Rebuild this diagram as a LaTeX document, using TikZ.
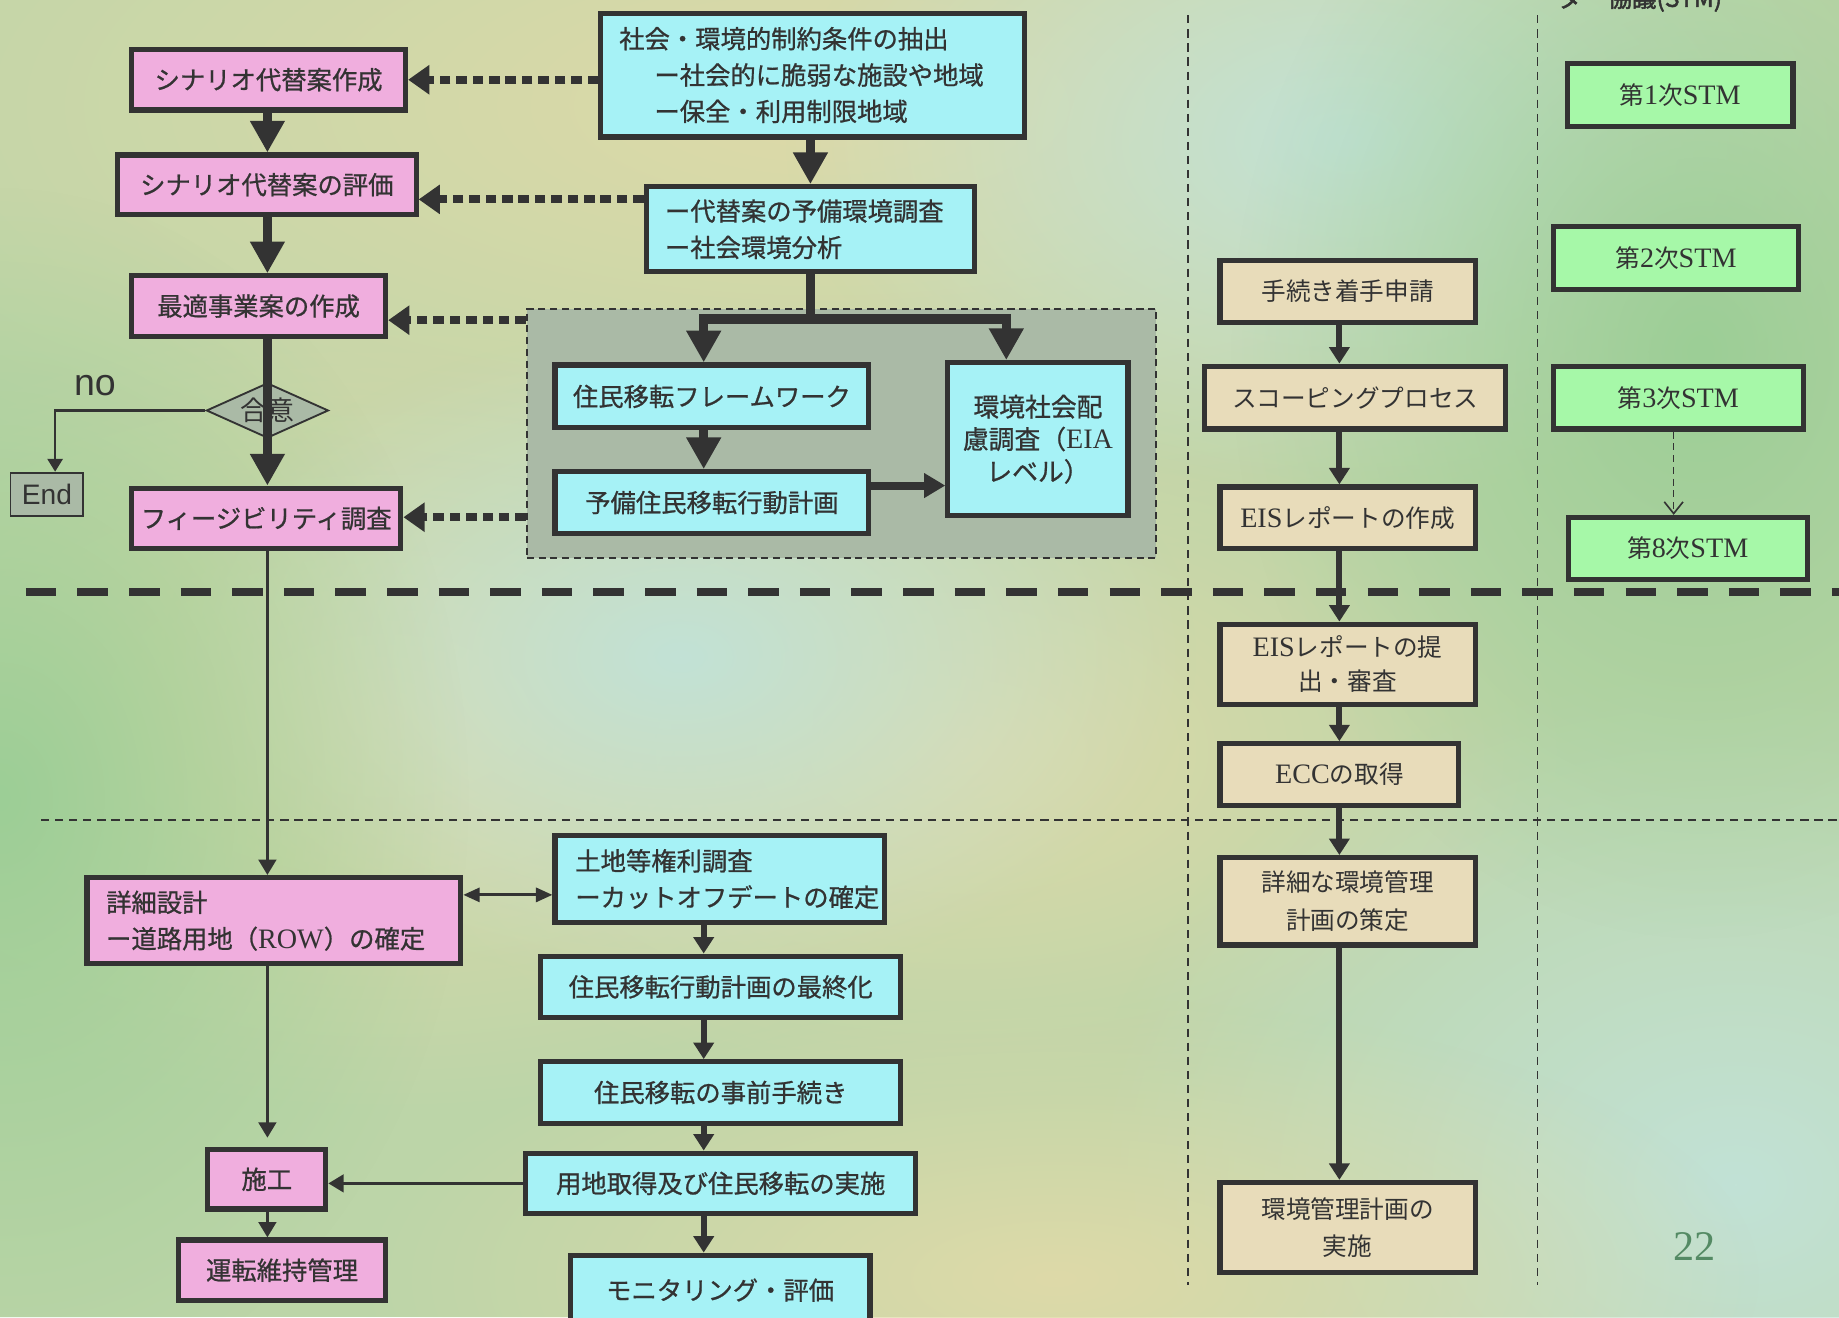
\documentclass[tikz,border=0pt]{standalone}
\usepackage{fontspec}
\setmainfont{Liberation Serif}
\newfontfamily\jp{Noto Sans CJK JP}
\newfontfamily\jpm[FakeBold=0.8]{Noto Sans CJK JP}
\newfontfamily\jpb[FakeBold=2]{Noto Sans CJK JP}
\newfontfamily\lsans{Liberation Sans}
\usetikzlibrary{arrows.meta,shapes.geometric,fadings}
\tikzfading[name=softblob, inner color=transparent!0, outer color=transparent!100]

\definecolor{bgbase}{RGB}{188,213,168}
\definecolor{bgyel}{RGB}{222,218,168}
\definecolor{bgblue}{RGB}{194,226,214}
\definecolor{bggreen}{RGB}{156,206,150}
\definecolor{ink}{RGB}{51,51,51}
\definecolor{pinkf}{RGB}{240,174,222}
\definecolor{cyanf}{RGB}{166,242,246}
\definecolor{beigef}{RGB}{232,220,186}
\definecolor{greenf}{RGB}{166,248,168}
\definecolor{grayf}{RGB}{170,186,166}
\definecolor{pgnum}{RGB}{84,138,100}

\newcommand\lat[1]{{\rmfamily\fontsize{12}{15}\selectfont #1}}
\newcommand\bx[7]{\node[#1, minimum width={(#5-#3)*0.5pt-2.2pt}, minimum height={(#6-#4)*0.5pt-2.2pt}] (#2) at ({(#3+#5)/2},{(#4+#6)/2}) {#7};}

\tikzset{
  box/.style={draw=ink, line width=2.2pt, inner sep=0pt, text=ink},
  pinkbox/.style={box, fill=pinkf, font={\jpm\fontsize{10.8}{15.5}\selectfont}},
  cyanbox/.style={box, fill=cyanf, font={\jpm\fontsize{10.8}{15.5}\selectfont}},
  beigebox/.style={box, fill=beigef, font={\jp\fontsize{10.5}{15.5}\selectfont}},
  greenbox/.style={box, fill=greenf, font={\jp\fontsize{10.5}{15}\selectfont}},
  grpbox/.style={draw=ink, line width=0.8pt, dash pattern=on 3pt off 2pt, fill=grayf, inner sep=0pt},
  blob/.style={path fading=softblob},
  bigarrow/.style={draw=ink, line width=4pt, -{Triangle[width=14pt,length=13.5pt]}},
  medarrow/.style={draw=ink, line width=3.4pt, -{Triangle[width=10pt,length=9pt]}},
  midarrow/.style={draw=ink, line width=2.6pt, -{Triangle[width=8.5pt,length=7pt]}},
  thinarrow/.style={draw=ink, line width=1.2pt, -{Triangle[width=7.5pt,length=6.5pt]}},
  dblarrow/.style={draw=ink, line width=1.2pt, {Triangle[width=6pt,length=7pt]}-{Triangle[width=6pt,length=7pt]}},
  noarrow/.style={draw=ink, line width=1pt, -{Triangle[width=6.5pt,length=5.5pt]}},
  dotarrow/.style={draw=ink, line width=3.4pt, dash pattern=on 4.5pt off 2.5pt, -{Triangle[width=12pt,length=9pt]}},
  dasharrow/.style={draw=ink, line width=0.7pt, dash pattern=on 3pt off 2pt, -{Straight Barb[width=8pt,length=5pt]}},
  thickdash/.style={draw=ink, line width=3.5pt, dash pattern=on 13pt off 9pt},
  thindash/.style={draw=ink, line width=0.7pt, dash pattern=on 3.5pt off 2.5pt},
}

\begin{document}
\begin{tikzpicture}[x=0.5pt,y=-0.5pt]
\useasboundingbox (0,0) rectangle (1568,1123);
% background
\fill[bgbase] (0,0) rectangle (1568,1123);
\begin{scope}
\clip (0,0) rectangle (1568,1123);
\fill[bgyel, blob] (700,90) ellipse [x radius=520pt, y radius=200pt];
\fill[bgyel, blob] (330,610) ellipse [x radius=300pt, y radius=170pt];
\fill[bgyel, blob] (820,640) ellipse [x radius=260pt, y radius=150pt];
\fill[bgblue, blob] (580,560) ellipse [x radius=220pt, y radius=140pt];
\fill[bggreen, blob] (0,680) ellipse [x radius=200pt, y radius=260pt];
\fill[bgblue, blob] (1480,1010) ellipse [x radius=280pt, y radius=220pt];
\fill[bgyel, blob] (900,1090) ellipse [x radius=300pt, y radius=120pt];
\fill[bgblue, blob] (1150,120) ellipse [x radius=240pt, y radius=150pt];
\fill[bggreen, blob] (1450,300) ellipse [x radius=200pt, y radius=250pt];
\end{scope}

% separators
\draw[thindash] (1013,13) -- (1013,1096);
\draw[thindash] (1311,13) -- (1311,1096);
\draw[thindash] (35,699) -- (1568,699);
\draw[thickdash] (22,505) -- (1568,505);

% heading (cut at top)
\node[font={\jpb\fontsize{10.5}{11}\selectfont}, text=ink, anchor=west, inner sep=0pt] (hd) at (1328,-1) {ダー協議(STM)};

% group
\bx{grpbox}{grp}{447}{261}{988}{478}{}

% pink boxes
\bx{pinkbox}{p1}{110}{40}{348}{96}{シナリオ代替案作成}
\bx{pinkbox}{p2}{98}{130}{357}{185}{シナリオ代替案の評価}
\bx{pinkbox}{p3}{110}{233}{331}{289}{最適事業案の作成}
\bx{pinkbox}{p4}{110}{414}{344}{470}{フィージビリティ調査}
\bx{pinkbox,align=left,text width=143pt}{p5}{72}{746}{395}{824}{詳細設計\\ー道路用地（\lat{ROW}）の確定}
\bx{pinkbox}{p6}{175}{978}{280}{1033}{施工}
\bx{pinkbox}{p7}{150}{1055}{331}{1111}{運転維持管理}

% cyan boxes
\bx{cyanbox,align=left,text width=165pt}{c1}{510}{9}{876}{119}{社会・環境的制約条件の抽出\\\hspace*{15pt}ー社会的に脆弱な施設や地域\\\hspace*{15pt}ー保全・利用制限地域}
\bx{cyanbox,align=left,text width=124pt}{c2}{549}{157}{833}{234}{ー代替案の予備環境調査\\ー社会環境分析}
\bx{cyanbox}{c3}{471}{309}{743}{367}{住民移転フレームワーク}
\bx{cyanbox}{c4}{471}{400}{743}{457}{予備住民移転行動計画}
\bx{cyanbox,align=center,font={\jpm\fontsize{11}{13.8}\selectfont}}{c5}{806}{307}{964}{442}{環境社会配\\慮調査（\lat{EIA}\\レベル）}
\bx{cyanbox,align=left,text width=123pt}{c6}{471}{710}{756}{789}{土地等権利調査\\ーカットオフデートの確定}
\bx{cyanbox}{c7}{459}{813}{770}{870}{住民移転行動計画の最終化}
\bx{cyanbox}{c8}{459}{903}{770}{960}{住民移転の事前手続き}
\bx{cyanbox}{c9}{446}{981}{783}{1037}{用地取得及び住民移転の実施}
\bx{cyanbox}{c10}{484}{1068}{744}{1132}{モニタリング・評価}

% diamond & end
\node[diamond, aspect=2, draw=ink, line width=0.8pt, fill=grayf, minimum width=52pt, minimum height=23.5pt, inner sep=0pt, text=ink, font={\jp\fontsize{11.5}{12}\selectfont}] (dia) at (228,350) {合意};
\node[draw=ink, line width=0.8pt, fill=grayf, minimum width=31pt, minimum height=18.5pt, inner sep=0pt, text=ink, font={\lsans\fontsize{12}{12}\selectfont}] (end) at (40,421.5) {End};
\node[text=ink, font={\lsans\fontsize{16}{16}\selectfont}, inner sep=0pt] (no) at (81,328.5) {no};

% beige boxes
\bx{beigebox}{b1}{1038}{220}{1260}{277}{手続き着手申請}
\bx{beigebox}{b2}{1025}{310}{1286}{368}{スコーピングプロセス}
\bx{beigebox}{b3}{1038}{413}{1260}{470}{\lat{EIS}レポートの作成}
\bx{beigebox,align=center,font={\jp\fontsize{10.5}{14.5}\selectfont}}{b4}{1038}{530}{1260}{603}{\lat{EIS}レポートの提\\出・審査}
\bx{beigebox}{b5}{1038}{632}{1246}{689}{\lat{ECC}の取得}
\bx{beigebox,align=center,font={\jp\fontsize{10.5}{16}\selectfont}}{b6}{1038}{729}{1260}{808}{詳細な環境管理\\計画の策定}
\bx{beigebox,align=center,font={\jp\fontsize{10.5}{16}\selectfont}}{b7}{1038}{1006}{1260}{1087}{環境管理計画の\\実施}

% green STM boxes
\bx{greenbox}{s1}{1334}{52}{1531}{110}{第\lat{1}次\lat{STM}}
\bx{greenbox}{s2}{1322}{191}{1536}{249}{第\lat{2}次\lat{STM}}
\bx{greenbox}{s3}{1322}{310}{1540}{368}{第\lat{3}次\lat{STM}}
\bx{greenbox}{s8}{1335}{439}{1543}{496}{第\lat{8}次\lat{STM}}

% page number
\node[text=pgnum, font={\rmfamily\fontsize{18}{18}\selectfont}, inner sep=0pt] (pg) at (1445,1063) {22};

% ---- connectors ----
\coordinate (lx) at (228,0);
\draw[bigarrow] (lx |- p1.south) -- (lx |- p2.north);
\draw[bigarrow] (lx |- p2.south) -- (lx |- p3.north);
\draw[bigarrow] (lx |- p3.south) -- (lx |- p4.north);

\coordinate (nb) at (47,350);
\draw[noarrow] (dia.west) -- (nb) -- (nb |- end.north);

\coordinate (cx) at (691,0);
\draw[bigarrow] (cx |- c1.south) -- (cx |- c2.north);
\coordinate (br) at (691,272);
\coordinate (bl) at (600,272);
\coordinate (bR) at (858,272);
\draw[draw=ink, line width=4pt] (cx |- c2.south) -- (br);
\draw[bigarrow] (br) -- (bl) -- (bl |- c3.north);
\draw[bigarrow] (br) -- (bR) -- (bR |- c5.north);
\draw[bigarrow] (bl |- c3.south) -- (bl |- c4.north);
\coordinate (de) at (743,414);
\draw[medarrow] (de -| c4.east) -- (de -| c5.west);

\coordinate (d2) at (549,170);
\coordinate (d3) at (447,273);
\coordinate (d4) at (447,441);
\draw[dotarrow] (c1.west |- p1.east) -- (p1.east);
\draw[dotarrow] (c2.west |- d2) -- (d2 -| p2.east);
\draw[dotarrow] (grp.west |- d3) -- (d3 -| p3.east);
\draw[dotarrow] (grp.west |- d4) -- (d4 -| p4.east);

\draw[thinarrow] (lx |- p4.south) -- (lx |- p5.north);
\coordinate (dd) at (400,763);
\draw[dblarrow] (dd -| p5.east) -- (dd -| c6.west);
\draw[thinarrow, shorten >=4pt] (lx |- p5.south) -- (lx |- p6.north);
\draw[thinarrow] (lx |- p6.south) -- (lx |- p7.north);
\draw[thinarrow] (c9.west) -- (c9.west -| p6.east);

\coordinate (bx) at (600,0);
\draw[midarrow] (bx |- c6.south) -- (bx |- c7.north);
\draw[midarrow] (bx |- c7.south) -- (bx |- c8.north);
\draw[midarrow] (bx |- c8.south) -- (bx |- c9.north);
\draw[midarrow] (bx |- c9.south) -- (bx |- c10.north);

\coordinate (rx) at (1142,0);
\draw[midarrow] (rx |- b1.south) -- (rx |- b2.north);
\draw[midarrow] (rx |- b2.south) -- (rx |- b3.north);
\draw[midarrow] (rx |- b3.south) -- (rx |- b4.north);
\draw[midarrow] (rx |- b4.south) -- (rx |- b5.north);
\draw[midarrow] (rx |- b5.south) -- (rx |- b6.north);
\draw[midarrow] (rx |- b6.south) -- (rx |- b7.north);

\coordinate (sx) at (1427,0);
\draw[dasharrow] (sx |- s3.south) -- (sx |- s8.north);
\end{tikzpicture}
\end{document}
